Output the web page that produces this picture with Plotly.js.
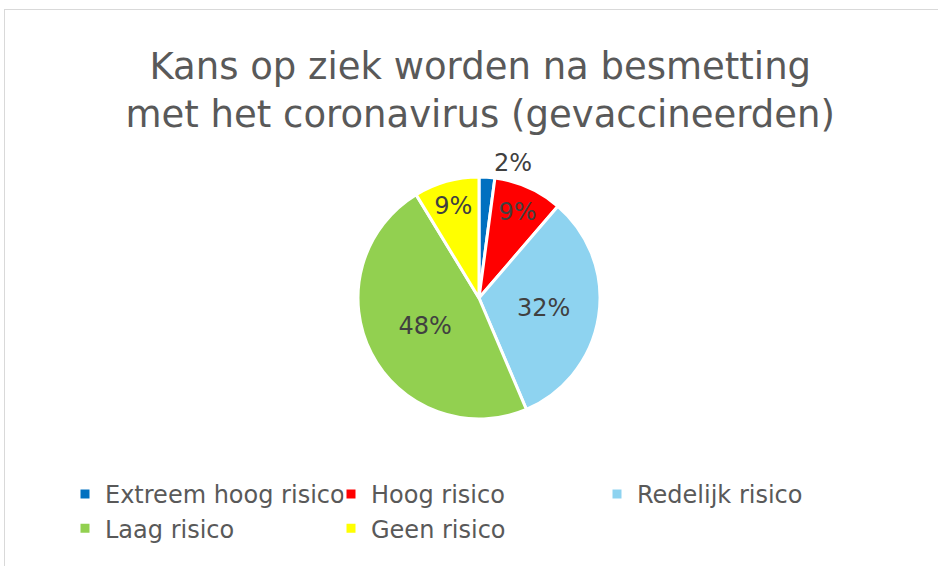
<!DOCTYPE html>
<html>
<head>
<meta charset="utf-8">
<script src="https://cdn.plot.ly/plotly-3.0.1.min.js"></script>
<style>
  html, body { margin: 0; padding: 0; background: #fff; }
  #wrap { position: relative; width: 938px; height: 566px; overflow: hidden; }
  #frame { position: absolute; left: 4px; top: 9px; width: 1000px; height: 1000px;
           border-left: 1px solid #d9d9d9; border-top: 1px solid #d9d9d9; pointer-events: none; }
  #chart { position: absolute; left: 0; top: 0; width: 938px; height: 566px; }
</style>
</head>
<body>
<div id="wrap">
  <div id="chart"></div>
  <div id="frame"></div>
</div>
<script>
const categories = ['Extreem hoog risico', 'Hoog risico', 'Redelijk risico', 'Laag risico', 'Geen risico'];
const values = [2.1, 9.2, 32.3, 47.7, 8.7];
const colors = ['#0070C0', '#FF0000', '#8ED3F0', '#92D050', '#FFFF00'];
const textPositions = ['outside', 'inside', 'inside', 'inside', 'inside'];

const W = 938, H = 566;
const cx = 479, cy = 298, R = 121;

const trace = {
  type: 'pie',
  labels: categories,
  values: values,
  sort: false,
  direction: 'clockwise',
  rotation: 0,
  marker: { colors: colors, line: { color: '#ffffff', width: 3 } },
  texttemplate: '%{percent:.0%}',
  textposition: textPositions,
  insidetextorientation: 'horizontal',
  textfont: { family: 'DejaVu Sans, Verdana, sans-serif', size: 24, color: '#404040' },
  outsidetextfont: { family: 'DejaVu Sans, Verdana, sans-serif', size: 24, color: '#404040' },
  hoverinfo: 'label+percent',
  domain: {
    x: [(cx - R) / W, (cx + R) / W],
    y: [(H - cy - R) / H, (H - cy + R) / H]
  }
};

const layout = {
  width: W, height: H,
  margin: { l: 0, r: 0, t: 0, b: 0 },
  paper_bgcolor: '#ffffff',
  font: { family: 'DejaVu Sans, Verdana, sans-serif', color: '#595959' },
  title: {
    text: 'Kans op ziek worden na besmetting<br>met het coronavirus (gevaccineerden)',
    font: { family: 'DejaVu Sans, Verdana, sans-serif', size: 37, color: '#595959' },
    x: 0.512, xanchor: 'center',
    y: 0.86, yanchor: 'top'
  },
  showlegend: true,
  legend: {
    orientation: 'h',
    x: 65 / W, xanchor: 'left',
    y: 1 - 472 / H, yanchor: 'top',
    entrywidth: 221,
    font: { family: 'DejaVu Sans, Verdana, sans-serif', size: 24, color: '#595959' },
    traceorder: 'normal'
  }
};

Plotly.newPlot('chart', [trace], layout, { displayModeBar: false, staticPlot: true });
</script>
</body>
</html>
